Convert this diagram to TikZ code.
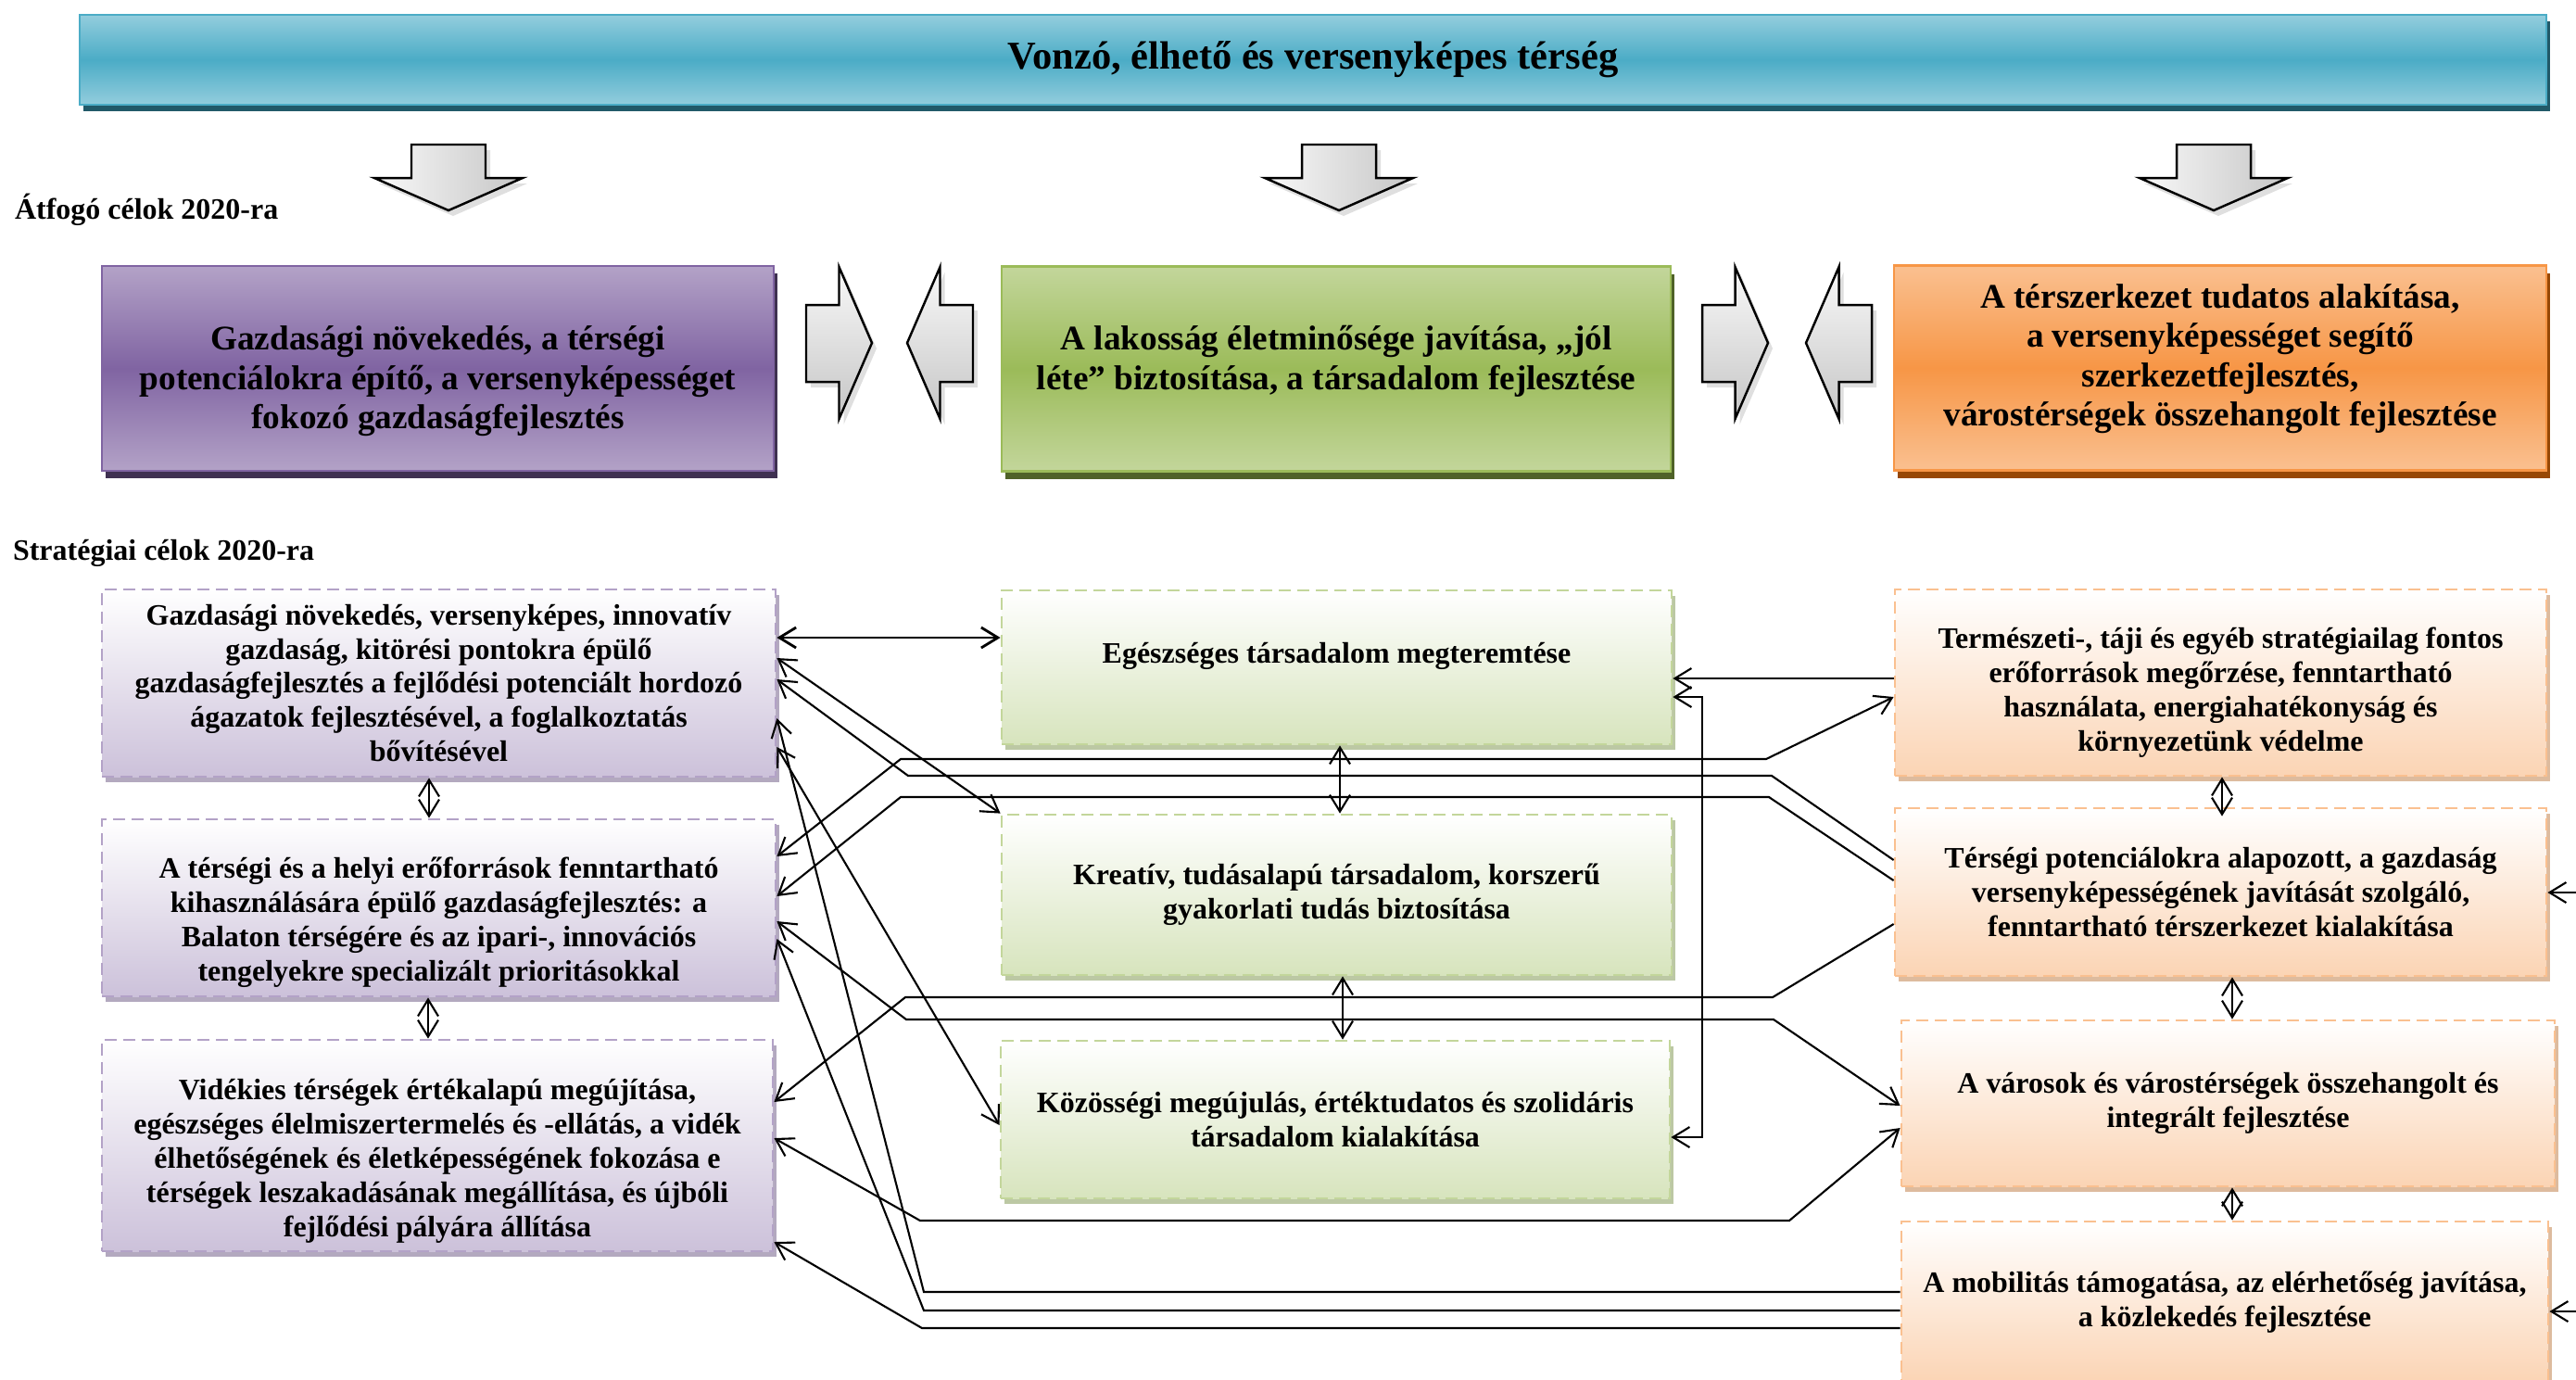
\documentclass[tikz,border=0pt]{standalone}
\usepackage{fontspec}
\setmainfont{Liberation Serif}
\usetikzlibrary{arrows.meta, shadows}

\definecolor{tealmain}{HTML}{4BACC6}
\definecolor{teallight}{HTML}{93CDDD}
\definecolor{tealdark}{HTML}{215968}
\definecolor{purplemain}{HTML}{8064A2}
\definecolor{purplelight}{HTML}{B3A2C7}
\definecolor{purpledark}{HTML}{3F3151}
\definecolor{purplepale}{HTML}{CCC1DA}
\definecolor{greenmain}{HTML}{9BBB59}
\definecolor{greenlight}{HTML}{C3D69B}
\definecolor{greendark}{HTML}{4F6228}
\definecolor{greenpale}{HTML}{D7E4BD}
\definecolor{orangemain}{HTML}{F79646}
\definecolor{orangelight}{HTML}{FAC090}
\definecolor{orangedark}{HTML}{974806}
\definecolor{orangepale}{HTML}{FBD4B4}

\begin{document}
\begin{tikzpicture}[line width=0.6pt, font=\bfseries,
	>={Straight Barb[length=1.8mm,width=2.2mm]},
	visionbox/.style={draw=tealmain, line width=0.8pt, top color=teallight, bottom color=teallight, middle color=tealmain, minimum width=26.62cm, minimum height=0.97cm, inner sep=0pt, font=\bfseries\fontsize{12.1}{14}\selectfont, drop shadow={shadow xshift=0.4mm, shadow yshift=-0.7mm, fill=tealdark, opacity=1}},
	goalbox/.style={draw=#1main, line width=0.8pt, top color=#1light, bottom color=#1light, middle color=#1main, minimum height=2.21cm, inner sep=0pt, align=center, font=\bfseries\fontsize{10.6}{12.1}\selectfont, drop shadow={shadow xshift=0.4mm, shadow yshift=-0.8mm, fill=#1dark, opacity=1}},
	goaltext/.style={inner sep=0pt, align=center, font=\bfseries\fontsize{10.6}{12.1}\selectfont},
	aimbox/.style={draw=#1light, line width=0.8pt, dash pattern=on 1.3mm off 0.7mm, top color=white, bottom color=#1pale, inner sep=0pt, align=center, font=\bfseries\fontsize{9.1}{10.5}\selectfont, drop shadow={shadow xshift=0.4mm, shadow yshift=-0.6mm, fill=#1main!60!gray, opacity=0.6}},
	aimtext/.style={inner sep=0pt, align=center, font=\bfseries\fontsize{9.1}{10.5}\selectfont},
	blockarrow/.style={draw=black, line width=0.7pt, drop shadow={shadow xshift=0.5mm, shadow yshift=-0.6mm, opacity=0.25}},
	levellabel/.style={inner sep=0pt, font=\bfseries\fontsize{9.1}{11}\selectfont}]
	\useasboundingbox (0,0) rectangle (27.8,-14.88);

	\node[visionbox] (vision) at (14.17,-0.645) {Vonzó, élhető és versenyképes térség};
	\foreach \cx in {4.84,14.45,23.89}
		\draw[blockarrow, left color=gray!5, right color=gray!45] (\cx-0.40,-1.56) -- (\cx+0.40,-1.56) -- (\cx+0.40,-1.92) -- (\cx+0.80,-1.92) -- (\cx,-2.27) -- (\cx-0.80,-1.92) -- (\cx-0.40,-1.92) -- cycle;

	\node[levellabel, anchor=base west] (lblA) at (0.15,-2.36) {Átfogó célok 2020-ra};
	\node[goalbox=purple, minimum width=7.25cm, label={[goaltext, yshift=-1.4mm]center:{Gazdasági növekedés, a térségi\\potenciálokra építő, a versenyképességet\\fokozó gazdaságfejlesztés}}] (G1) at (4.725,-3.975) {};
	\node[goalbox=green, minimum width=7.22cm, label={[goaltext, yshift=0.8mm]center:{A lakosság életminősége javítása, „jól\\léte” biztosítása, a társadalom fejlesztése}}] (G2) at (14.42,-3.98) {};
	\node[goalbox=orange, minimum width=7.04cm, label={[goaltext, yshift=1mm]center:{A térszerkezet tudatos alakítása,\\a versenyképességet segítő\\szerkezetfejlesztés,\\várostérségek összehangolt fejlesztése}}] (G3) at (23.96,-3.97) {};
	\foreach \ax in {8.70,18.37}
		\draw[blockarrow, top color=gray!5, bottom color=gray!45] (\ax,-3.29) -- (\ax+0.355,-3.29) -- (\ax+0.355,-2.88) -- (\ax+0.71,-3.70) -- (\ax+0.355,-4.52) -- (\ax+0.355,-4.12) -- (\ax,-4.12) -- cycle;
	\foreach \tx in {9.79,19.49}
		\draw[blockarrow, top color=gray!5, bottom color=gray!45] (\tx,-3.70) -- (\tx+0.355,-2.88) -- (\tx+0.355,-3.29) -- (\tx+0.71,-3.29) -- (\tx+0.71,-4.12) -- (\tx+0.355,-4.12) -- (\tx+0.355,-4.52) -- cycle;

	\node[levellabel, anchor=base west] (lblB) at (0.13,-6.04) {Stratégiai célok 2020-ra};
	\node[aimbox=purple, minimum width=7.27cm, minimum height=2.02cm] (L1) at (4.735,-7.37) {Gazdasági növekedés, versenyképes, innovatív\\gazdaság, kitörési pontokra épülő\\gazdaságfejlesztés a fejlődési potenciált hordozó\\ágazatok fejlesztésével, a foglalkoztatás\\bővítésével};
	\node[aimbox=purple, minimum width=7.27cm, minimum height=1.91cm, label={[aimtext, yshift=-1.6mm]center:{A térségi és a helyi erőforrások fenntartható\\kihasználására épülő gazdaságfejlesztés: a\\Balaton térségére és az ipari-, innovációs\\tengelyekre specializált prioritásokkal}}] (L2) at (4.735,-9.795) {};
	\node[aimbox=purple, minimum width=7.24cm, minimum height=2.28cm, label={[aimtext, yshift=-1.7mm]center:{Vidékies térségek értékalapú megújítása,\\egészséges élelmiszertermelés és -ellátás, a vidék\\élhetőségének és életképességének fokozása e\\térségek leszakadásának megállítása, és újbóli\\fejlődési pályára állítása}}] (L3) at (4.72,-12.36) {};
	\node[aimbox=green, minimum width=7.23cm, minimum height=1.66cm, label={[aimtext, yshift=1.2mm]center:{Egészséges társadalom megteremtése}}] (M1) at (14.425,-7.20) {};
	\node[aimbox=green, minimum width=7.23cm, minimum height=1.73cm] (M2) at (14.425,-9.655) {Kreatív, tudásalapú társadalom, korszerű\\gyakorlati tudás biztosítása};
	\node[aimbox=green, minimum width=7.22cm, minimum height=1.70cm] (M3) at (14.41,-12.08) {Közösségi megújulás, értéktudatos és szolidáris\\társadalom kialakítása};
	\node[aimbox=orange, minimum width=7.03cm, minimum height=2.01cm, label={[aimtext, yshift=-1.1mm]center:{Természeti-, táji és egyéb stratégiailag fontos\\erőforrások megőrzése, fenntartható\\használata, energiahatékonyság és\\környezetünk védelme}}] (R1) at (23.965,-7.365) {};
	\node[aimbox=orange, minimum width=7.03cm, minimum height=1.81cm] (R2) at (23.965,-9.625) {Térségi potenciálokra alapozott, a gazdaság\\versenyképességének javítását szolgáló,\\fenntartható térszerkezet kialakítása};
	\node[aimbox=orange, minimum width=7.05cm, minimum height=1.79cm] (R3) at (24.045,-11.905) {A városok és várostérségek összehangolt és\\integrált fejlesztése};
	\node[aimbox=orange, minimum width=6.98cm, minimum height=1.74cm] (R4) at (24.01,-14.05) {A mobilitás támogatása, az elérhetőség javítása,\\a közlekedés fejlesztése};

	\draw[<->] (L1.south -| 4.63,0) -- (L2.north -| 4.63,0);
	\draw[<->] (L2.south -| 4.62,0) -- (L3.north -| 4.62,0);
	\draw[<->] (M1.south -| 14.46,0) -- (M2.north -| 14.46,0);
	\draw[<->] (M2.south -| 14.49,0) -- (M3.north -| 14.49,0);
	\draw[<->, shorten >=-1mm] (R1.south -| 23.98,0) -- (R2.north -| 23.98,0);
	\draw[<->] (R2.south -| 24.09,0) -- (R3.north -| 24.09,0);
	\draw[<->] (R3.south -| 24.09,0) -- (R4.north -| 24.09,0);

	\draw[<->, line width=0.8pt] (L1.east |- 0,-6.88) -- (M1.west |- 0,-6.88);
	\draw[<->] (L1.east |- 0,-7.10) -- (M2.north west);
	\draw[<->] (L1.east |- 0,-8.06) -- (M3.west |- 0,-12.14);
	\draw[->] (R2.west |- 0,-9.28) -- (19.12,-8.37) -- (9.80,-8.37) -- (L1.east |- 0,-7.33);
	\draw[->] (R4.west |- 0,-13.94) -- (9.97,-13.94) -- (L1.east |- 0,-7.75);
	\draw[<->] (R1.west |- 0,-7.52) -- (19.06,-8.19) -- (9.72,-8.19) -- (L2.east |- 0,-9.24);
	\draw[->] (R2.west |- 0,-9.50) -- (19.09,-8.60) -- (9.72,-8.60) -- (L2.east |- 0,-9.67);
	\draw[<->] (L2.east |- 0,-9.94) -- (9.78,-11.00) -- (19.14,-11.00) -- (R3.west |- 0,-11.93);
	\draw[->] (R4.west |- 0,-14.14) -- (9.97,-14.14) -- (L2.east |- 0,-10.13);
	\draw[->] (R2.west |- 0,-9.97) -- (19.13,-10.76) -- (9.77,-10.76) -- (L3.east |- 0,-11.89);
	\draw[<->] (L3.east |- 0,-12.28) -- (9.93,-13.17) -- (19.31,-13.17) -- (R3.west |- 0,-12.17);
	\draw[->] (R4.west |- 0,-14.33) -- (9.95,-14.33) -- (L3.east |- 0,-13.40);
	\draw[->] (R1.west |- 0,-7.32) -- (M1.east |- 0,-7.32);
	\draw[<->] (M1.east |- 0,-7.52) -- (18.37,-7.52) -- (18.37,-12.27) -- (M3.east |- 0,-12.27);

	\coordinate (edgeA) at (27.8,-9.63);
	\coordinate (edgeB) at (27.8,-14.15);
	\draw[->] (edgeA) -- (R2.east |- edgeA);
	\draw[->] (edgeB) -- (R4.east |- edgeB);
\end{tikzpicture}
\end{document}
